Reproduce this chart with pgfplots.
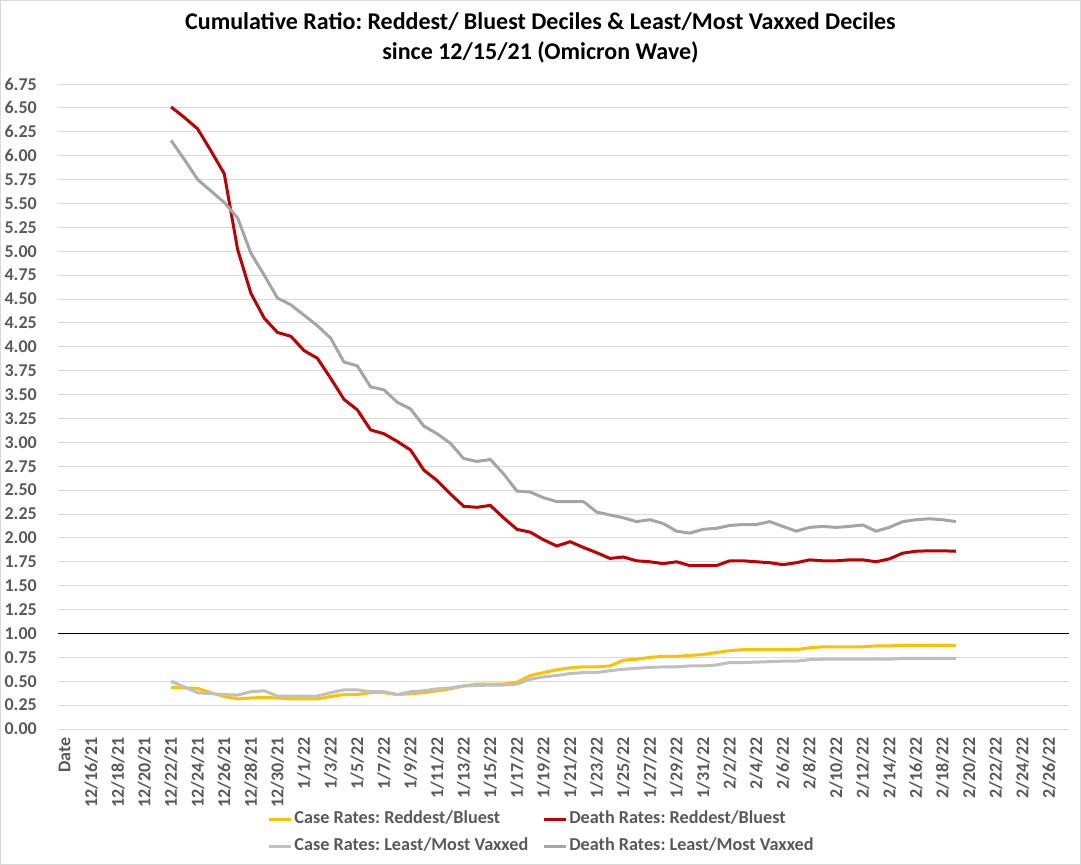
\documentclass[border=0pt]{standalone}
\usepackage{fontspec}
\setmainfont{Carlito}
\usepackage{pgfplots}
\usepackage{pgfplotstable}
\pgfplotsset{compat=1.18}
\frenchspacing
\definecolor{cyel}{HTML}{FFC000}
\definecolor{cred}{HTML}{C00000}
\definecolor{clg}{HTML}{BFBFBF}
\definecolor{cdg}{HTML}{A5A5A5}
\definecolor{ctxt}{HTML}{595959}
\definecolor{cgrid}{HTML}{D9D9D9}
\pgfplotstableread{
i cr dr cl dl
8 0.435 6.51 0.50 6.16
9 0.43 6.40 0.44 5.96
10 0.425 6.28 0.38 5.75
11 0.38 6.05 0.37 5.63
12 0.34 5.81 0.36 5.51
13 0.315 5.02 0.355 5.35
14 0.325 4.56 0.39 4.98
15 0.33 4.30 0.40 4.75
16 0.325 4.15 0.345 4.51
17 0.315 4.11 0.345 4.44
18 0.315 3.96 0.345 4.33
19 0.315 3.88 0.345 4.22
20 0.34 3.67 0.38 4.09
21 0.36 3.45 0.41 3.84
22 0.36 3.34 0.41 3.80
23 0.38 3.13 0.39 3.58
24 0.38 3.09 0.39 3.55
25 0.36 3.01 0.36 3.42
26 0.37 2.92 0.39 3.35
27 0.38 2.71 0.40 3.17
28 0.40 2.60 0.42 3.09
29 0.42 2.46 0.43 2.99
30 0.45 2.33 0.45 2.83
31 0.47 2.32 0.455 2.80
32 0.47 2.34 0.46 2.82
33 0.47 2.21 0.46 2.67
34 0.49 2.09 0.47 2.49
35 0.56 2.06 0.52 2.48
36 0.59 1.98 0.545 2.42
37 0.62 1.915 0.56 2.38
38 0.64 1.96 0.58 2.38
39 0.65 1.90 0.59 2.38
40 0.65 1.845 0.59 2.27
41 0.66 1.785 0.61 2.24
42 0.72 1.80 0.625 2.21
43 0.73 1.76 0.635 2.17
44 0.75 1.75 0.645 2.19
45 0.76 1.73 0.65 2.15
46 0.76 1.75 0.65 2.07
47 0.77 1.71 0.66 2.05
48 0.78 1.71 0.66 2.09
49 0.80 1.71 0.67 2.10
50 0.82 1.76 0.695 2.13
51 0.83 1.76 0.695 2.14
52 0.83 1.75 0.70 2.14
53 0.83 1.74 0.705 2.17
54 0.83 1.72 0.71 2.12
55 0.83 1.74 0.71 2.07
56 0.85 1.77 0.725 2.11
57 0.86 1.76 0.73 2.12
58 0.86 1.76 0.73 2.11
59 0.86 1.77 0.73 2.12
60 0.86 1.77 0.73 2.135
61 0.87 1.75 0.73 2.07
62 0.87 1.78 0.73 2.11
63 0.875 1.84 0.74 2.17
64 0.875 1.86 0.74 2.19
65 0.875 1.865 0.74 2.20
66 0.875 1.865 0.74 2.19
67 0.875 1.86 0.74 2.17
}\datatab
\begin{document}
\begin{tikzpicture}
\path[use as bounding box, draw=cgrid, line width=1bp] (0.5bp,0.5bp) rectangle (1080.5bp,864.5bp);
\node[font=\bfseries\fontsize{24bp}{28bp}\selectfont, anchor=center] at (540.5bp,843bp) {Cumulative Ratio: Reddest/ Bluest Deciles \& Least/Most Vaxxed Deciles};
\node[font=\bfseries\fontsize{24bp}{28bp}\selectfont, anchor=center] at (540.5bp,813bp) {since 12/15/21 (Omicron Wave)};
\begin{axis}[
  at={(58bp,136bp)}, anchor=south west,
  scale only axis, width=1011bp, height=645bp,
  xmin=-0.5, xmax=75.5, ymin=0, ymax=6.75,
  axis line style={draw=none},
  major tick length=0pt,
  ytick distance=0.25,
  ymajorgrids, grid style={cgrid, line width=0.9bp},
  xtick={0,2,...,74},
  xticklabels={Date,12/16/21,12/18/21,12/20/21,12/22/21,12/24/21,12/26/21,12/28/21,12/30/21,1/1/22,1/3/22,1/5/22,1/7/22,1/9/22,1/11/22,1/13/22,1/15/22,1/17/22,1/19/22,1/21/22,1/23/22,1/25/22,1/27/22,1/29/22,1/31/22,2/2/22,2/4/22,2/6/22,2/8/22,2/10/22,2/12/22,2/14/22,2/16/22,2/18/22,2/20/22,2/22/22,2/24/22,2/26/22},
  xticklabel style={rotate=90, anchor=east, inner sep=0pt, text=ctxt, font=\bfseries\fontsize{18bp}{18bp}\selectfont},
  xticklabel shift=8bp,
  yticklabel style={anchor=east, inner sep=0pt, text=ctxt, font=\bfseries\fontsize{18bp}{18bp}\selectfont,
    /pgf/number format/.cd, fixed, fixed zerofill, precision=2, assume math mode=true},
  yticklabel shift=21bp,
  legend columns=2,
  legend cell align=left,
  legend style={at={(0.4773,-0.161)}, anchor=center, draw=none, fill=none,
    font=\bfseries\fontsize{18.2bp}{18.2bp}\selectfont, text=ctxt,
    nodes={inner sep=0pt, text height=13bp, text depth=4bp},
    /tikz/every even column/.append style={column sep=14bp},
    /tikz/every odd column/.append style={column sep=2bp},
    row sep=10bp, inner sep=0pt},
  legend image code/.code={\draw[#1, line width=3bp] (0bp,0bp) -- (22bp,0bp);},
]
\addplot[cyel, line width=3bp] table[x=i, y=cr] {\datatab};
\addlegendentry{Case Rates: Reddest/Bluest}
\addplot[cred, line width=3bp] table[x=i, y=dr] {\datatab};
\addlegendentry{Death Rates: Reddest/Bluest}
\addplot[clg, line width=3bp] table[x=i, y=cl] {\datatab};
\addlegendentry{Case Rates: Least/Most Vaxxed}
\addplot[cdg, line width=3bp] table[x=i, y=dl] {\datatab};
\addlegendentry{Death Rates: Least/Most Vaxxed}
\addplot[black, line width=1.8bp, forget plot] coordinates {(-0.5,1) (75.5,1)};
\end{axis}
\end{tikzpicture}
\end{document}
